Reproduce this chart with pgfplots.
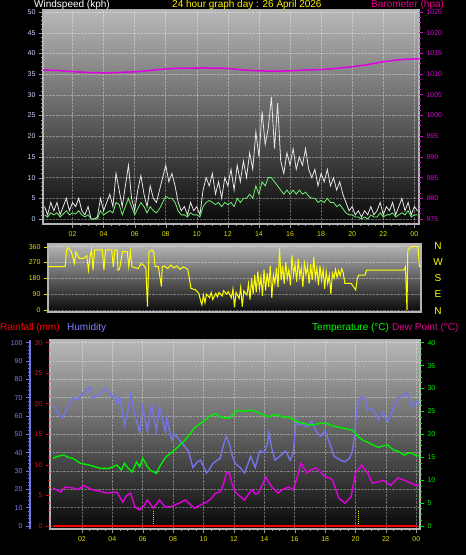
\documentclass[border=0pt]{standalone}
\usepackage{pgfplots}
\pgfplotsset{compat=1.18}
\usepackage{pgfplotstable}
\usepackage{fontspec}
\setmainfont{Liberation Sans}

\definecolor{bgtop}{HTML}{B8B8B8}
\definecolor{bgbot}{HTML}{080808}
\definecolor{framec}{HTML}{B4B4B4}
\definecolor{hourc}{HTML}{E0E000}
\definecolor{windc}{HTML}{C8D8FF}
\definecolor{baroc}{HTML}{E000E0}
\definecolor{gustc}{HTML}{E6E6E6}
\definecolor{avgc}{HTML}{70F070}
\definecolor{dirc}{HTML}{FFFF00}
\definecolor{humc}{HTML}{7474E8}
\definecolor{humlab}{HTML}{8080FF}
\definecolor{tempc}{HTML}{00EE00}
\definecolor{dewc}{HTML}{E000E0}
\definecolor{rainc}{HTML}{FF0000}

\pgfplotstableread{
h g a
0.2 3 1
0.4 1 0.5
0.6 4 1.5
0.8 2 1
1.0 4 1.5
1.2 1 0.5
1.4 3 1.2
1.6 5 2
1.8 2 1
2.0 4 1.5
2.2 3 1.2
2.4 5 2
2.6 2 1
2.8 1 0.5
3.0 3 1
3.2 0 0
3.4 0 0
3.6 0.5 0
3.8 5 2
4.0 2 1
4.2 4 1.5
4.4 6 2
4.6 3 1.5
4.8 11 4
5.0 7 3.5
5.2 3 1
5.4 8 3
5.6 13 5
5.8 5 3
6.0 2 1
6.2 7 2.5
6.4 10.5 4
6.6 6 3
6.8 3 1.5
7.0 8 3
7.2 5 2
7.4 4 1.5
7.6 7 2.5
7.8 10 4
8.0 13 5.5
8.2 9 5
8.4 11 5
8.6 8 4
8.8 4 2
9.0 2 1
9.2 3 1
9.4 1 0.5
9.6 4 1.5
9.8 2 1
10.0 3 1
10.2 1 0.5
10.4 7 3
10.6 10 4
10.8 8 4.5
11.0 11 4
11.2 6 3.5
11.4 9 4
11.6 5 3
11.8 10 4
12.0 8 3.5
12.2 12 4
12.4 7 3
12.6 13 5
12.8 9 4
13.0 14 5
13.2 10 5
13.4 16 6
13.6 12 5
13.8 21 8
14.0 15 6
14.2 26 9
14.4 18 8
14.6 22 10
14.8 29.5 10
15.0 17 9
15.2 28 8
15.4 14 7
15.6 11 6
15.8 16 7
16.0 13 6
16.2 17 7
16.4 12 6
16.6 15 7
16.8 13 6
17.0 17 6.5
17.2 12 5.5
17.4 10 5
17.6 12 5
17.8 8 4
18.0 11 4.5
18.2 9 4
18.4 12 5
18.6 8 4
18.8 10 4
19.0 7 3
19.2 9 3.5
19.4 6 2.5
19.6 4 1.5
19.8 2 1
20.0 3 1
20.2 1 0.5
20.4 2 0.5
20.6 0.5 0
20.8 2 0.5
21.0 1 0
21.2 3 1
21.4 1 0.5
21.6 2 0.5
21.8 4 1.5
22.0 1 0.5
22.2 3 1
22.4 2 1
22.6 4 1.5
22.8 1 0.5
23.0 3 1
23.2 5 1.5
23.4 2 1
23.6 4 2
23.8 1 0.5
24.0 3 1
24.2 2 1
}\windtab

\pgfplotstableread{
h d
0.0 246
1.1 246
1.2 340
1.3 354
1.5 332
1.7 265
1.8 330
2.0 294
2.3 294
2.5 309
2.6 227
2.7 300
2.8 341
2.9 227
3.0 341
3.5 341
3.6 227
3.7 341
4.1 341
4.2 246
4.3 341
4.45 341
4.5 227
4.6 232
4.8 332
5.1 332
5.2 246
5.3 332
5.4 246
5.6 240
5.8 236
6.0 265
6.2 250
6.3 237
6.4 19
6.5 332
6.7 341
6.8 330
6.9 246
7.1 246
7.3 133
7.35 246
7.5 250
7.7 236
7.9 255
8.1 240
8.3 250
8.5 232
8.7 245
8.9 237
9.0 230
9.2 123
9.5 114
9.7 95
9.8 60
9.9 30
10.0 85
10.1 40
10.2 90
10.4 70
10.5 100
10.6 60
10.8 95
10.9 75
11.0 100
11.2 80
11.3 110
11.5 90
11.6 105
11.8 70
11.9 120
12.0 15
12.1 100
12.3 66
12.4 130
12.5 20
12.6 110
12.8 85
12.9 150
13.0 60
13.1 180
13.2 90
13.3 200
13.4 100
13.5 220
13.6 120
13.7 190
13.8 80
13.9 230
14.0 110
14.1 210
14.2 130
14.3 250
14.4 70
14.5 200
14.6 150
14.7 240
14.8 130
14.9 350
15.0 170
15.1 250
15.2 150
15.3 270
15.4 180
15.5 230
15.6 140
15.7 310
15.8 200
15.9 260
16.0 160
16.1 290
16.2 190
16.3 240
16.4 130
16.5 280
16.6 200
16.7 250
16.8 150
16.9 260
17.0 170
17.1 300
17.2 180
17.3 240
17.4 140
17.5 250
17.6 170
17.7 230
17.8 120
17.9 220
18.0 150
18.1 200
18.2 90
18.3 210
18.4 180
18.5 230
18.6 185
18.7 225
18.8 195
18.9 235
19.0 210
19.1 152
19.5 152
19.8 114
19.9 180
20.0 199
20.4 199
20.5 227
22.9 227
23.0 246
23.1 0
23.15 341
23.4 360
23.8 360
23.9 246
24.0 246
}\dirtab

\begin{document}
\begin{tikzpicture}[x=1pt,y=1pt]
\useasboundingbox (0pt,0pt) rectangle (466pt,555pt);
\fill[black] (0pt,0pt) rectangle (466pt,555pt);

\pgfplotsset{
  base/.style={scale only axis, anchor=south west,
    tick label style={font=\fontsize{7}{8}\selectfont},
    /pgf/number format/assume math mode=true,
    /pgf/number format/1000 sep={},
    tick align=outside,
    major tick length=4pt, minor tick length=2pt},
  gridst/.style={major grid style={draw=white, densely dotted, line width=0.5pt, opacity=0.35}}
}

% ---------------- top panel: wind ----------------
\begin{axis}[base, gridst, at={(43pt,331pt)}, width=376pt, height=214pt,
  xmin=0.1, xmax=24.3, ymin=-1.2, ymax=50.5,
  axis background/.style={top color=bgtop, bottom color=bgbot},
  axis line style={draw=framec, line width=1.2pt},
  xtick={2,4,...,24}, xticklabels={02,04,06,08,10,12,14,16,18,20,22,00},
  xtick pos=bottom, minor x tick num=3,
  ytick={0,5,...,50}, ytick pos=left, minor y tick num=4,
  grid=major,
  xticklabel style={text=hourc},
  yticklabel style={text=windc},
  tick style={draw=gray!80}]
\addplot[gustc, line width=0.8pt] table[x=h, y=g] {\windtab};
\addplot[avgc, line width=0.8pt] table[x=h, y=a] {\windtab};
\end{axis}

\begin{axis}[base, at={(43pt,331pt)}, width=376pt, height=214pt,
  xmin=0.1, xmax=24.3, ymin=973.8, ymax=1025.5,
  axis y line*=right, hide x axis,
  y axis line style={draw=none},
  ytick={975,980,...,1025}, minor y tick num=3,
  yticklabel style={text=baroc},
  tick style={draw=baroc, line width=0.8pt}]
\addplot[baroc, line width=1.5pt] coordinates {
(0.1,1011.0)(1.0,1010.9)(2.0,1010.6)(3.0,1010.4)(4.2,1010.3)(5.0,1010.4)(6.2,1010.6)
(7.5,1011.1)(8.5,1011.4)(10.5,1011.5)(12.0,1011.4)(13.0,1011.0)(14.0,1010.8)
(15.0,1010.7)(16.0,1010.8)(17.0,1011.0)(18.0,1011.1)(19.0,1011.4)(20.0,1011.8)
(21.0,1012.3)(22.0,1013.0)(22.8,1013.4)(23.5,1013.6)(24.3,1013.7)};
\end{axis}

% ---------------- direction panel ----------------
\begin{axis}[base, gridst, at={(48pt,243pt)}, width=373pt, height=68pt,
  xmin=0, xmax=24, ymin=-11, ymax=375,
  axis background/.style={top color=bgtop, bottom color=bgbot},
  axis line style={draw=framec, line width=1.2pt},
  xtick=\empty,
  ytick={0,90,180,270,360}, ytick pos=left,
  ymajorgrids,
  yticklabel style={text=hourc},
  tick style={draw=hourc}]
\addplot[dirc, line width=1pt] table[x=h, y=d] {\dirtab};
\end{axis}

\begin{scope}[every node/.style={text=dirc, font=\fontsize{10}{12}\selectfont, anchor=center}]
\node at (438pt,309pt) {N};
\node at (438pt,293pt) {W};
\node at (438pt,277pt) {S};
\node at (438pt,261pt) {E};
\node at (438pt,244pt) {N};
\end{scope}

% ---------------- bottom panel ----------------
\begin{axis}[base, gridst, at={(50pt,26pt)}, width=370pt, height=189pt,
  xmin=-0.1, xmax=24.24, ymin=-1.6, ymax=101.5,
  axis background/.style={top color=bgtop, bottom color=bgbot},
  axis line style={draw=framec, line width=1.2pt},
  xtick={2,4,...,24}, xticklabels={02,04,06,08,10,12,14,16,18,20,22,00},
  xtick pos=bottom, minor x tick num=3,
  ytick={0,10,...,100}, yticklabels={}, y tick style={draw=none},
  grid=major,
  xticklabel style={text=hourc},
  x tick style={draw=gray!80}]
\addplot[humc, line width=1.4pt] coordinates {
(0.1,66)(0.4,62)(0.7,59)(1.0,64)(1.4,70)(1.7,69)(2.1,72.6)(2.5,76)(2.7,70)(3.0,71)
(3.2,72.6)(3.6,75)(4.0,70)(4.2,72)(4.3,67)(4.5,70)(4.8,55)(5.0,62)(5.2,72)(5.5,60)
(5.8,51)(6.0,65)(6.3,52)(6.6,66)(6.9,52)(7.1,65)(7.3,58)(7.5,51)(7.6,59)(7.9,47)
(8.1,50)(8.4,47)(8.7,44)(9.0,41)(9.3,32)(9.6,35)(9.8,36)(10.2,29)(10.4,31)(10.6,34)
(10.9,36)(11.1,37)(11.3,44)(11.5,49)(11.7,45)(11.9,38)(12.1,34)(12.4,32)(12.7,29)
(13.1,38)(13.4,32)(13.7,41)(14.0,40)(14.2,45)(14.3,51)(14.5,42)(14.7,36)(15.0,38)
(15.4,41)(15.7,36)(15.9,40)(16.1,58)(16.3,55)(16.5,56)(16.8,54)(17.1,57)(17.4,52)
(17.7,49)(18.0,52)(18.3,45)(18.6,38)(19.0,36)(19.3,35)(19.6,37)(19.8,41)(20.0,55)
(20.1,65)(20.3,70)(20.6,70)(20.8,63)(21.0,64)(21.3,62)(21.5,58)(21.8,62)(22.1,57)
(22.4,62)(22.6,66)(22.8,70)(23.1,71)(23.4,73)(23.7,65)(24.0,68)(24.2,66)};
\addplot[hourc, densely dotted, line width=1pt] coordinates {(6.7,0)(6.7,8.7)};
\addplot[hourc, densely dotted, line width=1pt] coordinates {(20.2,0)(20.2,8.7)};
\end{axis}

% rainfall axis (left, red)
\begin{axis}[base, at={(50pt,26pt)}, width=370pt, height=189pt,
  xmin=-0.1, xmax=24.24, ymin=-0.48, ymax=30.45,
  axis y line*=left, hide x axis,
  y axis line style={draw=none},
  ytick={0,5,...,30}, minor y tick num=3,
  yticklabel style={text=rainc},
  tick style={draw=rainc, line width=0.8pt}]
\addplot[rainc, line width=2pt] coordinates {(0.1,0)(24.1,0)};
\end{axis}

% temperature axis (right, green)
\begin{axis}[base, at={(50pt,26pt)}, width=370pt, height=189pt,
  xmin=-0.1, xmax=24.24, ymin=-0.64, ymax=40.6,
  axis y line*=right, hide x axis,
  y axis line style={draw=none},
  ytick={0,5,...,40}, minor y tick num=3,
  yticklabel style={text=tempc},
  tick style={draw=tempc, line width=0.8pt}]
\addplot[tempc, line width=1.4pt] coordinates {
(0.1,14.8)(0.4,15.2)(0.8,15.5)(1.1,15.0)(1.4,14.8)(1.9,13.7)(2.5,13.3)(3.2,12.6)
(3.8,12.6)(4.3,13.3)(4.6,12.2)(4.8,13.7)(5.0,12.8)(5.3,11.8)(5.6,14.0)(5.8,12.9)
(6.0,14.8)(6.3,13.0)(6.5,12.2)(6.9,11.5)(7.1,12.9)(7.5,15.0)(8.1,16.6)(8.8,18.8)
(9.4,21.4)(10.1,23.1)(10.5,24.2)(10.8,24.5)(11.1,23.8)(11.4,23.6)(11.7,23.6)
(12.2,25.3)(12.6,25.0)(13.1,25.3)(13.5,24.9)(14.0,24.2)(14.3,23.8)(14.6,24.3)
(14.9,24.2)(15.3,23.7)(15.6,23.8)(16.2,22.7)(16.6,22.4)(17.1,22.0)(17.5,22.3)
(18.0,22.5)(18.4,22.0)(18.8,21.6)(19.3,21.3)(19.8,20.9)(20.2,19.4)(20.5,18.7)
(20.8,18.3)(21.2,17.6)(21.5,17.2)(21.8,17.5)(22.1,17.7)(22.5,16.6)(22.8,16.3)
(23.2,15.5)(23.5,16.0)(23.7,15.9)(24.0,15.3)(24.2,15.4)};
\addplot[dewc, line width=1.4pt] coordinates {
(0.1,8.3)(0.4,7.8)(0.6,7.4)(0.9,8.5)(1.4,8.3)(1.8,8.0)(2.1,8.9)(2.4,8.4)(2.7,7.9)
(3.2,7.6)(3.6,7.2)(4.3,7.4)(4.7,5.2)(4.9,6.5)(5.2,7.2)(5.5,4.1)(5.8,3.5)(6.1,4.5)
(6.3,5.7)(6.7,3.9)(6.9,4.8)(7.1,5.7)(7.5,4.1)(7.9,4.3)(8.4,5.0)(8.8,5.7)(9.1,4.8)
(9.4,3.9)(9.8,4.6)(10.2,5.2)(10.5,6.0)(10.8,7.2)(11.1,7.5)(11.3,9.0)(11.5,11.6)
(11.7,11.6)(11.9,9.0)(12.1,7.4)(12.4,6.5)(12.7,5.7)(13.0,7.2)(13.2,7.9)(13.4,7.0)
(13.6,7.2)(13.9,9.2)(14.1,10.7)(14.3,9.5)(14.5,8.5)(14.9,7.2)(15.2,8.0)(15.6,8.5)
(15.9,7.9)(16.2,11.0)(16.4,13.7)(16.8,11.6)(17.1,12.3)(17.4,12.7)(17.7,11.8)
(18.0,10.7)(18.3,10.5)(18.5,10.0)(18.9,6.1)(19.3,5.0)(19.7,6.3)(20.0,11.6)
(20.4,13.3)(20.8,11.6)(21.1,9.4)(21.5,9.6)(21.8,10.0)(22.3,8.9)(22.8,10.5)
(23.2,10.0)(23.5,9.6)(24.0,8.8)(24.2,8.9)};
\end{axis}

% humidity scale (separate blue axis)
\begin{axis}[base, at={(30pt,26pt)}, width=1pt, height=189pt,
  xmin=0, xmax=1, ymin=-1.6, ymax=101.5,
  axis y line*=left, hide x axis,
  y axis line style={draw=humc, line width=1.8pt},
  ytick={0,10,...,100}, minor y tick num=4,
  yticklabel style={text=humlab},
  tick style={draw=humc, line width=0.8pt}]
\end{axis}

% titles
\begin{scope}[every node/.style={font=\fontsize{10}{12}\selectfont, anchor=base west, inner sep=0pt}]
\node[text=white] at (34pt,547pt) {Windspeed (kph)};
\node[text=yellow] at (172pt,547pt) {24 hour graph day : 26 April 2026};
\node[text=magenta] at (371pt,547pt) {Barometer (hpa)};
\node[text=red] at (0pt,224pt) {Rainfall (mm)};
\node[text=humlab] at (67pt,224pt) {Humidity};
\node[text=green] at (312pt,224pt) {Temperature (°C)};
\node[text=magenta] at (392pt,224pt) {Dew Point (°C)};
\end{scope}
\end{tikzpicture}
\end{document}
